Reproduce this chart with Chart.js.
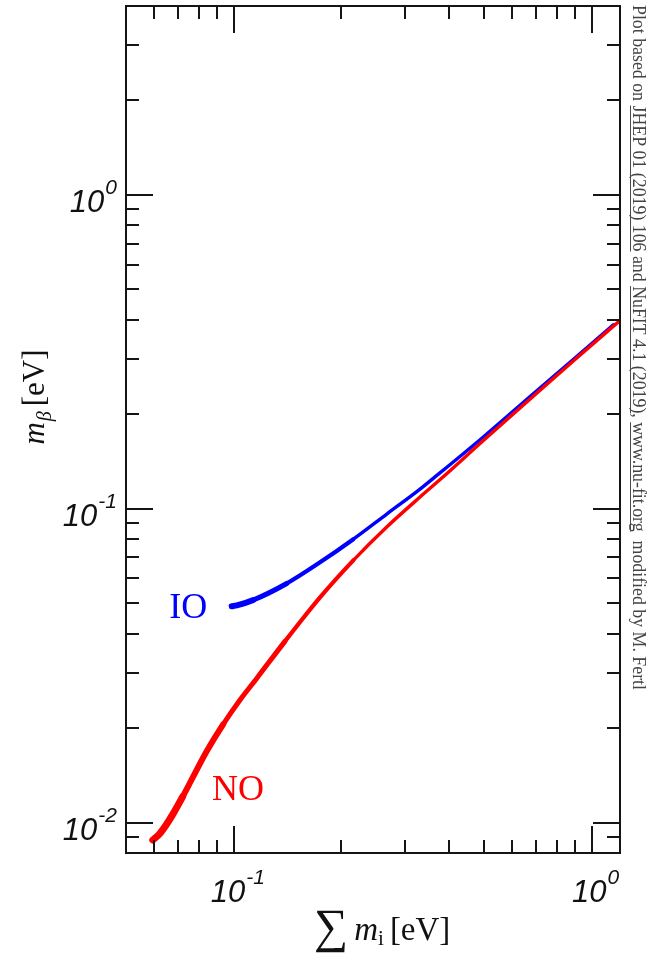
<!DOCTYPE html>
<html>
<head>
<meta charset="utf-8">
<script src="https://cdn.jsdelivr.net/npm/chart.js@4/dist/chart.umd.min.js"></script>
<style>
    html, body { margin: 0; padding: 0; background: #fff; }
</style>
</head>
<body>
<canvas id="massChart" width="648" height="954"></canvas>
<script>
// Sum of neutrino masses vs. effective beta-decay mass, both in eV
var sumNO = [0.0594, 0.0620, 0.0650, 0.0678, 0.0720, 0.0755, 0.0841, 0.0935, 0.1041, 0.1159, 0.139, 0.1742, 0.2158, 0.2676, 0.3315, 0.3807, 0.50, 0.6895, 0.90, 1.20]
var mbetaNO = [0.0088, 0.0092, 0.0099, 0.0107, 0.0121, 0.0134, 0.0169, 0.0206, 0.0246, 0.0288, 0.0378, 0.0522, 0.0685, 0.0875, 0.1090, 0.1250, 0.1655, 0.229, 0.2995, 0.398]

var sumIO = [0.0987, 0.1020, 0.1134, 0.1406, 0.1742, 0.2158, 0.2676, 0.3315, 0.3610, 0.50, 0.6895, 0.90, 1.15]
var mbetaIO = [0.0489, 0.0492, 0.0512, 0.0578, 0.0675, 0.0800, 0.0962, 0.1155, 0.1250, 0.170, 0.2335, 0.303, 0.386]

var xMajorTicks = [0.1, 1]
var xMinorTicks = [0.06, 0.07, 0.08, 0.09, 0.2, 0.3, 0.4, 0.5, 0.6, 0.7, 0.8, 0.9]
var yMajorTicks = [0.01, 0.1, 1]
var yMinorTicks = [0.009, 0.02, 0.03, 0.04, 0.05, 0.06, 0.07, 0.08, 0.09,
    0.2, 0.3, 0.4, 0.5, 0.6, 0.7, 0.8, 0.9, 2, 3]
var xTickExponents = ['-1', '0']
var yTickExponents = ['-2', '-1', '0']

var noteParts = [
    ['Plot based on ', false],
    ['JHEP 01 (2019) 106', true],
    [' and ', false],
    ['NuFIT 4.1 (2019)', true],
    [', ', false],
    ['www.nu-fit.org', true],
    ['  modified by M. Fertl', false]
]

function toPoints(xs, ys) {
    return xs.map(function (x, i) { return { x: x, y: ys[i] } })
}

// thicker stroke at the low-mass end of each curve
function widthNO(ctx) {
    var x = ctx.p0.parsed.x
    if (x < 0.07) return 7
    if (x < 0.09) return 6
    if (x < 0.12) return 5
    if (x < 0.2) return 4.2
    return 3.4
}
function widthIO(ctx) {
    var x = ctx.p0.parsed.x
    if (x < 0.105) return 6
    if (x < 0.13) return 5
    if (x < 0.2) return 4.2
    return 3.4
}

function drawPower(ctx, exp, x, yBase, align) {
    ctx.font = 'italic 31px "Liberation Sans", Arial, sans-serif'
    var wBase = ctx.measureText('10').width
    ctx.font = 'italic 21px "Liberation Sans", Arial, sans-serif'
    var wExp = ctx.measureText(exp).width
    var total = wBase + 1 + wExp
    var left = align === 'right' ? x - total : x - total / 2
    ctx.textAlign = 'left'
    ctx.textBaseline = 'alphabetic'
    ctx.font = 'italic 31px "Liberation Sans", Arial, sans-serif'
    ctx.fillText('10', left, yBase)
    ctx.font = 'italic 21px "Liberation Sans", Arial, sans-serif'
    ctx.fillText(exp, left + wBase + 1, yBase - 18)
}

function drawRun(ctx, parts, x, y) {
    // parts: [text, font, dy, extra gap]
    parts.forEach(function (p) {
        ctx.font = p[1]
        ctx.fillText(p[0], x, y + (p[2] || 0))
        x += ctx.measureText(p[0]).width + (p[3] || 0)
    })
    return x
}

function runWidth(ctx, parts) {
    var w = 0
    parts.forEach(function (p) {
        ctx.font = p[1]
        w += ctx.measureText(p[0]).width + (p[3] || 0)
    })
    return w
}

var framePlugin = {
    id: 'frameAndLabels',
    afterDraw: function (chart) {
        var ctx = chart.ctx
        var a = chart.chartArea
        var xs = chart.scales.x
        var ys = chart.scales.y
        ctx.save()

        // inward ticks on all four sides
        ctx.strokeStyle = '#151515'
        ctx.lineWidth = 2
        ctx.beginPath()
        function xTick(v, len) {
            var px = Math.round(xs.getPixelForValue(v))
            ctx.moveTo(px, a.bottom); ctx.lineTo(px, a.bottom - len)
            ctx.moveTo(px, a.top); ctx.lineTo(px, a.top + len)
        }
        function yTick(v, len) {
            var py = Math.round(ys.getPixelForValue(v))
            ctx.moveTo(a.left, py); ctx.lineTo(a.left + len, py)
            ctx.moveTo(a.right, py); ctx.lineTo(a.right - len, py)
        }
        xMajorTicks.forEach(function (v) { xTick(v, 27) })
        xMinorTicks.forEach(function (v) { xTick(v, 13) })
        yMajorTicks.forEach(function (v) { yTick(v, 27) })
        yMinorTicks.forEach(function (v) { yTick(v, 13) })
        ctx.stroke()
        ctx.strokeRect(a.left, a.top, a.right - a.left, a.bottom - a.top)

        // tick labels
        ctx.fillStyle = '#111'
        xMajorTicks.forEach(function (v, i) {
            drawPower(ctx, xTickExponents[i], xs.getPixelForValue(v) + 4, a.bottom + 49, 'center')
        })
        yMajorTicks.forEach(function (v, i) {
            drawPower(ctx, yTickExponents[i], a.left - 9, ys.getPixelForValue(v) + 17, 'right')
        })

        // y title, rotated
        var serif = '"Liberation Serif", "Times New Roman", serif'
        var yTitle = [
            ['m', 'italic 31px ' + serif, 0, 1],
            ['\u03B2', 'italic 20px ' + serif, 7, 5],
            ['[eV]', '31px ' + serif, 0]
        ]
        ctx.save()
        ctx.translate(44, 397)
        ctx.rotate(-Math.PI / 2)
        ctx.textAlign = 'left'
        drawRun(ctx, yTitle, -runWidth(ctx, yTitle) / 2, 0)
        ctx.restore()

        // x title
        var xTitle = [
            ['\u2211', '48px ' + serif, 2, 6],
            ['m', 'italic 33px ' + serif, 0, 0],
            ['i', '21px ' + serif, 5, 6],
            ['[eV]', '33px ' + serif, 0]
        ]
        ctx.textAlign = 'left'
        drawRun(ctx, xTitle, 314, 940)

        // curve labels
        ctx.font = '36px ' + serif
        ctx.fillStyle = '#0000ff'
        ctx.fillText('IO', xs.getPixelForValue(0.066), ys.getPixelForValue(0.045))
        ctx.fillStyle = '#ff0000'
        ctx.fillText('NO', xs.getPixelForValue(0.087), ys.getPixelForValue(0.01183))

        // credit note along the right edge
        ctx.save()
        ctx.translate(633, 5)
        ctx.rotate(Math.PI / 2)
        ctx.font = '19px ' + serif
        var full = noteParts.map(function (p) { return p[0] }).join('')
        var scale = 685 / ctx.measureText(full).width
        ctx.scale(scale, 1)
        ctx.fillStyle = '#444'
        ctx.strokeStyle = '#444'
        ctx.lineWidth = 1
        var x = 0
        noteParts.forEach(function (p) {
            var w = ctx.measureText(p[0]).width
            ctx.fillText(p[0], x, 0)
            if (p[1]) {
                ctx.beginPath()
                ctx.moveTo(x, 2.5); ctx.lineTo(x + w, 2.5)
                ctx.stroke()
            }
            x += w
        })
        ctx.restore()

        ctx.restore()
    }
}

var massChart = new Chart(document.getElementById('massChart').getContext('2d'), {
    type: 'line',
    data: {
        datasets: [
            {
                label: 'NO',
                data: toPoints(sumNO, mbetaNO),
                borderColor: '#ff0000',
                borderCapStyle: 'round',
                borderJoinStyle: 'round',
                pointRadius: 0,
                cubicInterpolationMode: 'monotone',
                segment: { borderWidth: widthNO }
            },
            {
                label: 'IO',
                data: toPoints(sumIO, mbetaIO),
                borderColor: '#0000ff',
                borderCapStyle: 'round',
                borderJoinStyle: 'round',
                pointRadius: 0,
                cubicInterpolationMode: 'monotone',
                segment: { borderWidth: widthIO }
            }
        ]
    },
    options: {
        responsive: false,
        devicePixelRatio: 1,
        animation: false,
        layout: { padding: { left: 126, right: 28, top: 6, bottom: 101 } },
        plugins: {
            legend: { display: false },
            tooltip: { enabled: false }
        },
        scales: {
            x: { type: 'logarithmic', min: 0.05, max: 1.2, display: false },
            y: { type: 'logarithmic', min: 0.008, max: 4, display: false }
        }
    },
    plugins: [framePlugin]
})
</script>
</body>
</html>
